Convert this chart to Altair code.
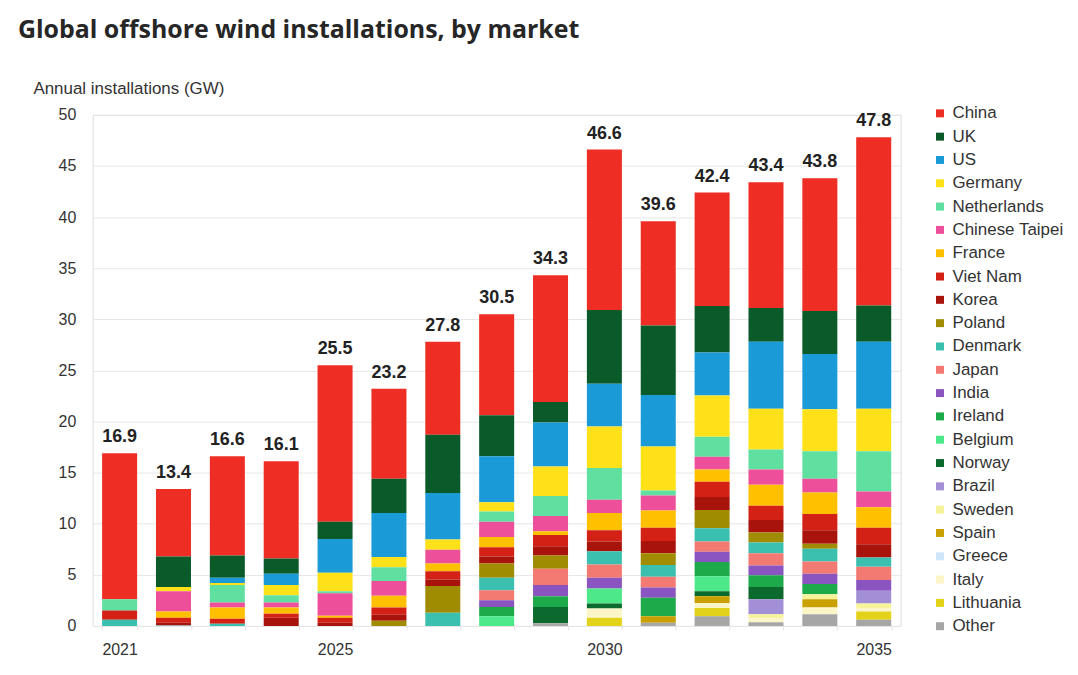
import altair as alt
import pandas as pd

years = [str(y) for y in range(2021, 2036)]

markets = ["China", "UK", "US", "Germany", "Netherlands", "Chinese Taipei", "France",
           "Viet Nam", "Korea", "Poland", "Denmark", "Japan", "India", "Ireland",
           "Belgium", "Norway", "Brazil", "Sweden", "Spain", "Greece", "Italy",
           "Lithuania", "Other"]

colors = ["#ee2e24", "#0b5a2a", "#1a9ad6", "#ffe11a", "#5fe0a0", "#ee4f9a", "#ffc000",
          "#d42116", "#a8140c", "#a08c00", "#3bbfaf", "#f37a72", "#8a55c0", "#1daa4a",
          "#4de88a", "#0d6a2e", "#a38fd6", "#f6f39a", "#c8a000", "#cfe5fa", "#fbf5c8",
          "#e3d21a", "#a6a6a6"]

china = [14.3, 6.6, 9.7, 9.5, 15.3, 8.8, 9.1, 9.9, 12.4, 15.7, 10.2, 11.1, 12.3, 13.0, 16.45]
uk = [0, 3.0, 2.2, 1.5, 1.7, 3.35, 5.7, 4.0, 2.0, 7.2, 6.8, 4.55, 3.3, 4.2, 3.55]
us = [0, 0, 0.5, 1.1, 3.3, 4.3, 4.55, 4.5, 4.3, 4.2, 5.05, 4.2, 6.55, 5.4, 6.55]
germany = [0, 0.4, 0.2, 1.0, 1.8, 1.0, 1.0, 0.9, 2.9, 4.05, 4.3, 4.05, 4.0, 4.1, 4.15]
netherlands = [1.1, 0, 1.7, 0.7, 0.2, 1.35, 0, 1.0, 1.95, 3.1, 0.5, 1.95, 1.95, 2.7, 3.95]
chinese_taipei = [0, 2.0, 0.5, 0.5, 2.2, 1.45, 1.35, 1.5, 1.5, 1.3, 1.45, 1.25, 1.5, 1.35, 1.55]
france = [0, 0.6, 1.1, 0.6, 0.2, 1.15, 0.75, 1.0, 0.35, 1.7, 1.7, 1.2, 2.05, 2.1, 2.0]
viet_nam = [0.9, 0.5, 0.5, 0.4, 0.5, 0.7, 0.8, 0.9, 1.1, 1.1, 1.3, 1.5, 1.4, 1.6, 1.6]
korea = [0, 0.2, 0, 0.8, 0.3, 0.6, 0.65, 0.7, 0.9, 0.95, 1.2, 1.25, 1.2, 1.3, 1.3]
poland = [0, 0, 0, 0, 0, 0.5, 2.6, 1.4, 1.3, 0, 1.15, 1.8, 1.0, 0.5, 0]
denmark = [0.6, 0, 0.2, 0, 0, 0, 1.3, 1.2, 0, 1.3, 1.15, 1.3, 1.05, 1.25, 0.9]
japan = [0, 0, 0, 0, 0, 0, 0, 1.0, 1.6, 1.3, 1.05, 1.0, 1.2, 1.2, 1.3]
india = [0, 0, 0, 0, 0, 0, 0, 0.65, 1.1, 1.05, 1.0, 1.0, 0.95, 1.0, 1.05]
ireland = [0, 0, 0, 0, 0, 0, 0, 0.9, 1.05, 0, 1.8, 1.4, 1.15, 1.0, 0]
belgium = [0, 0, 0, 0, 0, 0, 0, 0.95, 0, 1.45, 0, 1.45, 0, 0, 0]
norway = [0, 0, 0, 0, 0, 0, 0, 0, 1.6, 0.5, 0, 0.5, 1.2, 0, 0]
brazil = [0, 0, 0, 0, 0, 0, 0, 0, 0, 0, 0, 0, 1.45, 0, 1.25]
sweden = [0, 0, 0, 0, 0, 0, 0, 0, 0, 0, 0, 0, 0.4, 0.5, 0.5]
spain = [0, 0, 0, 0, 0, 0, 0, 0, 0, 0, 0.65, 0.65, 0, 0.8, 0]
greece = [0, 0, 0, 0, 0, 0, 0, 0, 0, 0, 0, 0, 0, 0, 0]
italy = [0, 0, 0, 0, 0, 0, 0, 0, 0, 0.9, 0, 0.5, 0.4, 0.65, 0.3]
lithuania = [0, 0, 0, 0, 0, 0, 0, 0, 0, 0.8, 0, 0.8, 0, 0, 0.8]
other = [0, 0.1, 0, 0, 0, 0, 0, 0, 0.25, 0, 0.3, 0.95, 0.35, 1.15, 0.6]

totals = [16.9, 13.4, 16.6, 16.1, 25.5, 23.2, 27.8, 30.5, 34.3, 46.6, 39.6, 42.4, 43.4, 43.8, 47.8]

series = [china, uk, us, germany, netherlands, chinese_taipei, france, viet_nam, korea,
          poland, denmark, japan, india, ireland, belgium, norway, brazil, sweden, spain,
          greece, italy, lithuania, other]

rows = []
for i, (m, vals) in enumerate(zip(markets, series)):
    for y, v in zip(years, vals):
        if v > 0:
            rows.append({"year": y, "market": m, "gw": v, "ord": len(markets) - i})
df = pd.DataFrame(rows)
tot_df = pd.DataFrame({"year": years, "total": totals})

label_years = ["2021", "2025", "2030", "2035"]
label_expr = "indexof(" + str(label_years) + ", datum.label) >= 0 ? datum.label : ''"

xscale = alt.Scale(domain=years, paddingInner=0.35, paddingOuter=0.175)

bars = alt.Chart(df).mark_bar().encode(
    x=alt.X("year:O", scale=xscale,
            axis=alt.Axis(title=None, labelAngle=0, labelExpr=label_expr, labelFontSize=16,
                          labelColor="#333333", labelFont="Liberation Sans", labelPadding=12,
                          ticks=True, tickBand="extent", tickColor="#e3e3e3", tickSize=4,
                          domain=False, grid=False)),
    y=alt.Y("gw:Q", stack="zero", scale=alt.Scale(domain=[0, 50]),
            axis=alt.Axis(values=list(range(0, 51, 5)), title="Annual installations (GW)",
                          titleAngle=0, titleAlign="left", titleBaseline="middle",
                          titleX=-60, titleY=-26, titleFontSize=17, titleFontWeight="normal",
                          titleColor="#333333", titleFont="Liberation Sans",
                          labelFontSize=16, labelColor="#333333", labelFont="Liberation Sans",
                          ticks=False, domain=False, gridColor="#e6e6e6", labelPadding=17)),
    color=alt.Color("market:N", scale=alt.Scale(domain=markets, range=colors),
                    legend=alt.Legend(title=None, orient="none", legendX=842, legendY=-10,
                                      symbolType="square", symbolSize=64, symbolStrokeWidth=0,
                                      labelFontSize=17, labelColor="#333333",
                                      labelFont="Liberation Sans", rowPadding=5.4,
                                      labelOffset=4, padding=0, labelLimit=200)),
    order=alt.Order("ord:Q", sort="ascending"),
)

labels = alt.Chart(tot_df).mark_text(fontWeight="bold", fontSize=18, baseline="bottom",
                                     dy=-7, color="#222222", font="Liberation Sans").encode(
    x=alt.X("year:O", scale=xscale),
    y=alt.Y("total:Q"),
    text=alt.Text("total:Q", format=".1f"),
)

chart = alt.layer(bars, labels).properties(
    width=811, height=513,
    padding={"left": 85, "top": 106, "right": 170, "bottom": 40},
    autosize="none",
    title=alt.TitleParams("Global offshore wind installations, by market", anchor="start",
                          frame="group", fontSize=25, font="Open Sans", fontWeight="bold",
                          color="#262626", dx=-75, offset=37),
).configure_view(stroke=None).configure(background="white")

chart.save("out.html", embed_options={"renderer": "svg", "actions": False})
